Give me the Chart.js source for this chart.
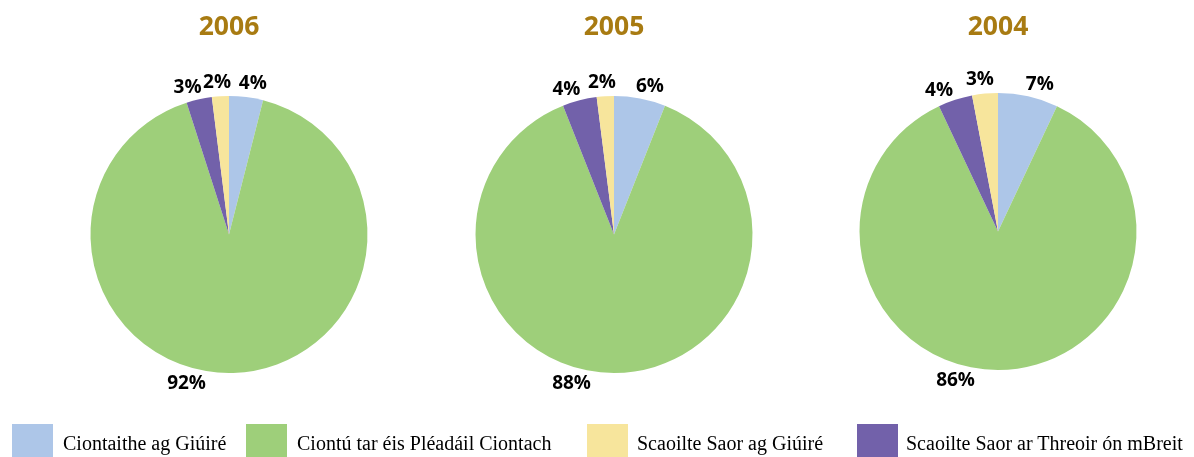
<!DOCTYPE html>
<html>
<head>
<meta charset="utf-8">
<script src="https://cdn.jsdelivr.net/npm/chart.js@4"></script>
<style>
  html, body { margin: 0; padding: 0; background: #fff; }
  #wrap { position: relative; width: 1194px; height: 457px; overflow: hidden; }
  .pie { position: absolute; top: 0; }
  .sw { position: absolute; top: 424px; width: 41px; height: 40px; }
  .lt { position: absolute; top: 433px; font: 20px/20px "Liberation Serif", serif; color: #000; white-space: nowrap; }
</style>
</head>
<body>
<div id="wrap"></div>
<script>
// Dados (valores em %), na ordem da legenda
var years = ['2006', '2005', '2004'];
var categories = ['Ciontaithe ag Giúiré', 'Ciontú tar éis Pléadáil Ciontach', 'Scaoilte Saor ag Giúiré', 'Scaoilte Saor ar Threoir ón mBreit'];
var convictedByJury = [4, 6, 7];
var guiltyPlea = [92, 88, 86];
var acquittedByJury = [2, 2, 3];
var directedAcquittal = [3, 4, 4];

var colors = ['#adc6e8', '#9ecf7a', '#f7e59c', '#7261aa'];
// ordem das fatias no sentido horário a partir do topo
var sliceOrder = [0, 1, 3, 2];

// posição de cada gráfico
var pieCenters = [[229, 234.5], [614, 234.5], [998, 231.5]];
var radius = 138.5;
var boxW = 380, boxH = 440;

var legendSwatchX = [12, 246, 587, 857];
var legendTextX = [63, 297, 637, 906];

var wrap = document.getElementById('wrap');

// rótulos e título
var pieLabels = {
  id: 'pieLabels',
  afterDatasetsDraw: function(chart) {
    var ctx = chart.ctx;
    var meta = chart.getDatasetMeta(0);
    var vals = chart.data.datasets[0].data;
    ctx.save();
    ctx.font = 'bold 19px "Open Sans"';
    ctx.fillStyle = '#000';
    ctx.textAlign = 'center';
    ctx.textBaseline = 'alphabetic';
    meta.data.forEach(function(arc, i) {
      var p = arc.getProps(['x', 'y', 'startAngle', 'endAngle', 'outerRadius'], true);
      var a = (p.startAngle + p.endAngle) / 2 + Math.PI / 2;
      a = Math.atan2(Math.sin(a), Math.cos(a));
      var ang;
      if (Math.abs(a) < Math.PI / 2) ang = a * 1.25 - Math.PI / 2;
      else ang = Math.PI / 2 + 16 * Math.PI / 180;
      var d = p.outerRadius + 15.5;
      ctx.fillText(vals[i] + '%', p.x + d * Math.cos(ang), p.y + d * Math.sin(ang) + 6.8);
    });
    ctx.font = 'bold 26.5px "Open Sans"';
    ctx.fillStyle = '#a87b12';
    ctx.fillText(chart.options.plugins.yearTitle.text, meta.data[0].x, 35);
    ctx.restore();
  }
};

years.forEach(function(year, k) {
  var all = [convictedByJury[k], guiltyPlea[k], acquittedByJury[k], directedAcquittal[k]];
  var cx = pieCenters[k][0], cy = pieCenters[k][1];
  var canvas = document.createElement('canvas');
  canvas.className = 'pie';
  canvas.width = boxW;
  canvas.height = boxH;
  canvas.style.left = (cx - boxW / 2) + 'px';
  canvas.style.width = boxW + 'px';
  canvas.style.height = boxH + 'px';
  wrap.appendChild(canvas);

  new Chart(canvas.getContext('2d'), {
    type: 'pie',
    data: {
      labels: sliceOrder.map(function(i) { return categories[i]; }),
      datasets: [{
        data: sliceOrder.map(function(i) { return all[i]; }),
        backgroundColor: sliceOrder.map(function(i) { return colors[i]; }),
        borderWidth: 0,
        hoverOffset: 0,
        offset: 0
      }]
    },
    options: {
      responsive: false,
      devicePixelRatio: 1,
      animation: false,
      events: [],
      layout: {
        padding: {
          left: boxW / 2 - radius,
          right: boxW / 2 - radius,
          top: cy - radius,
          bottom: boxH - cy - radius
        }
      },
      plugins: {
        legend: { display: false },
        tooltip: { enabled: false },
        yearTitle: { text: year }
      }
    },
    plugins: [pieLabels]
  });
});

// legenda
categories.forEach(function(name, i) {
  var sw = document.createElement('div');
  sw.className = 'sw';
  sw.style.left = legendSwatchX[i] + 'px';
  sw.style.background = colors[i];
  wrap.appendChild(sw);
  var t = document.createElement('div');
  t.className = 'lt';
  t.style.left = legendTextX[i] + 'px';
  t.textContent = name;
  wrap.appendChild(t);
});
</script>
</body>
</html>
